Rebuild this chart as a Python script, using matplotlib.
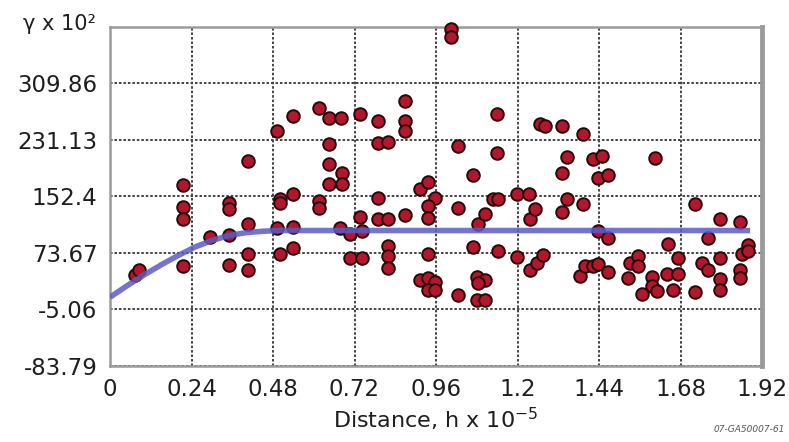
import matplotlib
matplotlib.use("Agg")
import matplotlib.pyplot as plt

# ---- data ----
xticks = [0, 0.24, 0.48, 0.72, 0.96, 1.2, 1.44, 1.68, 1.92]
xtick_labels = ["0", "0.24", "0.48", "0.72", "0.96", "1.2", "1.44", "1.68", "1.92"]
yticks = [-83.79, -5.06, 73.67, 152.4, 231.13, 309.86]
ytick_labels = ["-83.79", "-5.06", "73.67", "152.4", "231.13", "309.86"]
y_top = 388.59

pts_h = [0.074, 0.085, 0.215, 0.215, 0.215, 0.215, 0.294, 0.350, 0.350, 0.350,
         0.350, 0.406, 0.406, 0.406, 0.406, 0.492, 0.501, 0.501, 0.492, 0.501,
         0.539, 0.539, 0.539, 0.539, 0.615, 0.615, 0.615, 0.645, 0.680, 0.645,
         0.645, 0.683, 0.645, 0.683, 0.677, 0.707, 0.742, 0.707, 0.742, 0.736,
         0.736, 0.789, 0.789, 0.819, 0.789, 0.789, 0.819, 0.819, 0.819, 0.819,
         0.869, 0.869, 0.869, 0.869, 0.913, 0.936, 0.957, 0.936, 0.936, 0.936,
         0.913, 0.936, 0.957, 0.936, 0.957, 1.004, 1.004, 1.025, 1.025, 1.025,
         1.069, 1.069, 1.084, 1.104, 1.081, 1.104, 1.084, 1.081, 1.104, 1.128,
         1.143, 1.140, 1.140, 1.143, 1.198, 1.234, 1.198, 1.237, 1.251, 1.237,
         1.257, 1.275, 1.266, 1.281, 1.331, 1.393, 1.331, 1.331, 1.346, 1.346,
         1.393, 1.384, 1.399, 1.422, 1.422, 1.449, 1.437, 1.466, 1.437, 1.466,
         1.437, 1.466, 1.525, 1.531, 1.555, 1.555, 1.567, 1.596, 1.596, 1.611,
         1.605, 1.640, 1.673, 1.658, 1.643, 1.673, 1.723, 1.723, 1.743, 1.761,
         1.761, 1.796, 1.855, 1.796, 1.796, 1.796, 1.855, 1.855, 1.879, 1.861,
         1.879]
pts_gamma = [43.7, 49.3, 168.5, 138.0, 121.3, 56.2, 96.4, 143.5, 135.2, 99.2,
             57.6, 201.7, 114.4, 72.8, 49.3, 243.3, 149.0, 143.5, 108.9, 72.8,
             264.1, 156.0, 110.2, 81.1, 275.2, 146.3, 136.6, 261.3, 261.3, 225.3,
             197.6, 185.1, 169.8, 169.8, 108.9, 100.5, 104.7, 67.3, 67.3, 266.9,
             124.1, 257.2, 226.7, 228.1, 150.4, 121.3, 121.3, 83.9, 70.0, 53.4,
             284.9, 257.2, 243.3, 126.9, 162.9, 172.6, 150.4, 139.3, 122.7, 72.8,
             35.4, 38.2, 32.6, 21.5, 21.5, 386.0, 375.0, 222.5, 136.6, 14.6,
             182.3, 82.5, 114.4, 128.3, 39.6, 35.4, 31.2, 7.7, 7.7, 149.0,
             149.0, 266.9, 212.8, 77.0, 156.0, 156.0, 68.7, 121.3, 135.2, 49.3,
             60.3, 71.4, 253.0, 250.2, 250.2, 239.1, 185.1, 131.0, 207.3, 149.0,
             142.1, 42.3, 56.2, 56.2, 204.5, 208.6, 178.2, 182.3, 104.7, 95.0,
             59.0, 46.5, 38.2, 60.3, 70.0, 56.2, 16.0, 39.6, 27.1, 20.2,
             205.9, 45.1, 45.1, 21.5, 86.7, 67.3, 142.1, 18.8, 60.3, 49.3,
             95.0, 121.3, 117.2, 67.3, 36.8, 21.5, 49.3, 38.2, 85.3, 72.8,
             77.0]

model_h = [0.0, 0.05, 0.10, 0.15, 0.20, 0.25, 0.30, 0.35, 0.40, 0.45, 0.50, 1.885]
model_gamma = [12, 28, 43, 57, 70, 82, 91, 98, 102, 104, 105, 105]

# ---- figure ----
W, H = 789, 442
fig = plt.figure(figsize=(W / 100, H / 100), dpi=100)
ax = fig.add_axes([110 / W, 1 - 366 / H, (762 - 110) / W, (366 - 27) / H])

ax.set_xlim(0, 1.92)
ax.set_ylim(yticks[0], y_top)

ax.set_xticks(xticks)
ax.set_xticklabels(xtick_labels)
ax.set_yticks(yticks + [y_top])
ax.set_yticklabels(ytick_labels + [""])
ax.tick_params(length=0, labelsize=16.5, labelcolor="#1e1e1e", pad=9)
for lab in ax.get_xticklabels() + ax.get_yticklabels():
    lab.set_family("DejaVu Sans")

ax.grid(True, color="#444444", linestyle=(0, (1.3, 1.0)), linewidth=1.4)
ax.set_axisbelow(True)

for side in ["top", "left", "bottom"]:
    ax.spines[side].set_color("#9a9a9a")
    ax.spines[side].set_linewidth(1.8)
ax.spines["right"].set_color("#9a9a9a")
ax.spines["right"].set_linewidth(3.5)

ax.scatter(pts_h, pts_gamma, s=82, facecolor="#b3172d", edgecolor="#2a0808",
           linewidth=1.4, zorder=3, clip_on=False)

ax.plot(model_h, model_gamma, color="#5a5ac8", linewidth=4, alpha=0.85,
        zorder=4, solid_capstyle="butt")

ax.text(-0.04, y_top + 4, "\u03b3 x 10\u00b2", ha="right", va="center",
        fontsize=15, color="#1e1e1e", family="DejaVu Sans",
        transform=ax.transData, clip_on=False)

ax.set_xlabel("Distance, h x 10$^{-5}$", fontsize=16, color="#1e1e1e",
              labelpad=3, family="DejaVu Sans")

fig.text(785 / W, 1 - 430 / H, "07-GA50007-61", ha="right", va="center",
         fontsize=6.5, color="#555555", style="italic")

fig.savefig("out.png", dpi=100)
